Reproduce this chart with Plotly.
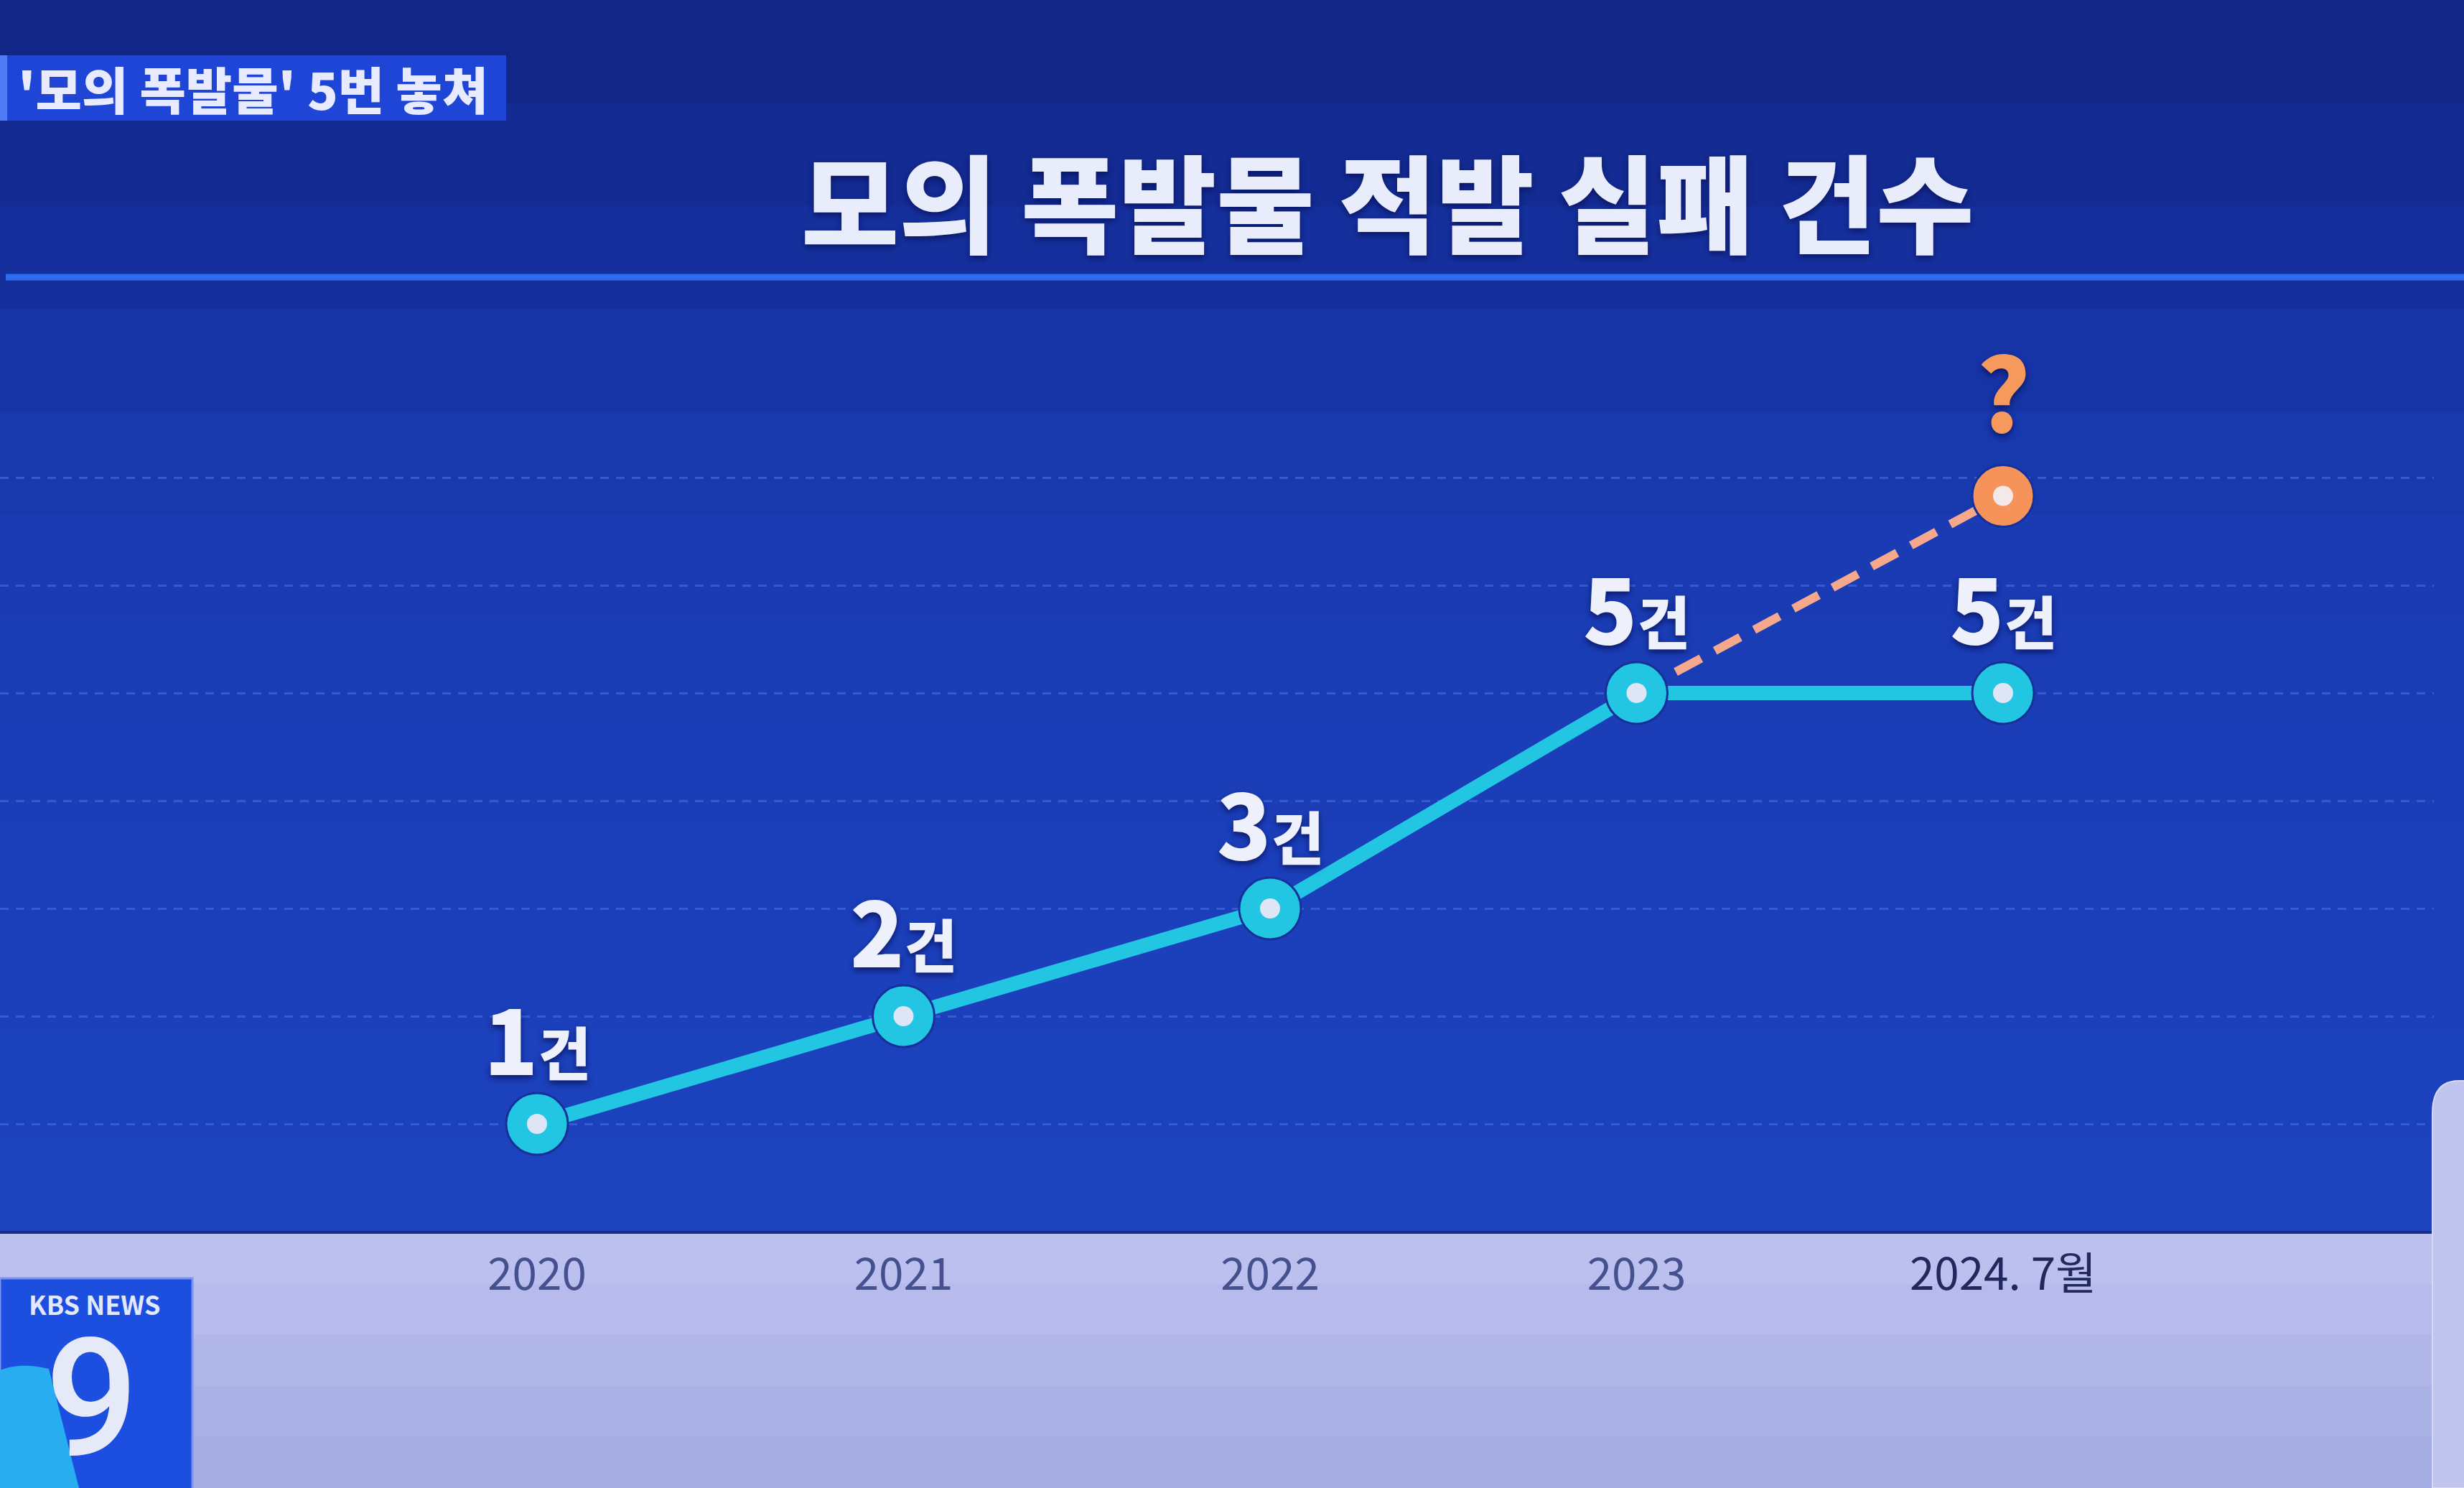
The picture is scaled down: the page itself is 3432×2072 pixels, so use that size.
import plotly.graph_objects as go

# ---------------- data ----------------
years = ["2020", "2021", "2022", "2023", "2024. 7월"]
counts = [1, 2, 3, 5, 5]
projected_value = 6.83          # height of the '?' point (estimated)
unit = "건"
title = "모의 폭발물 적발 실패 건수"
tag = "'모의 폭발물' 5번 놓쳐"
grid_values = [1, 2, 3, 4, 5, 6, 7]

# ---------------- layout helpers ----------------
W, H = 3432, 2072
def fx(p):
    return p / W
def fy(p):
    return 1 - p / H

KR = "Noto Sans CJK KR"
x_idx = list(range(len(years)))

fig = go.Figure()

# projection dashed line (2023 -> ?)
fig.add_trace(go.Scatter(
    x=[x_idx[3], x_idx[4]], y=[counts[3], projected_value], mode="lines",
    line=dict(color="#f6a88c", width=12, dash="40px,22px"),
    hoverinfo="skip", showlegend=False))
# main line
fig.add_trace(go.Scatter(
    x=x_idx, y=counts, mode="lines+markers",
    line=dict(color="#22c6e2", width=20),
    marker=dict(size=86, color="#22c6e2", line=dict(color="#16309a", width=3)),
    hoverinfo="skip", showlegend=False))
fig.add_trace(go.Scatter(
    x=x_idx, y=counts, mode="markers",
    marker=dict(size=28, color="#dde5f6"),
    hoverinfo="skip", showlegend=False))
# projected point
fig.add_trace(go.Scatter(
    x=[x_idx[4]], y=[projected_value], mode="markers",
    marker=dict(size=86, color="#f5935a", line=dict(color="#16309a", width=3)),
    hoverinfo="skip", showlegend=False))
fig.add_trace(go.Scatter(
    x=[x_idx[4]], y=[projected_value], mode="markers",
    marker=dict(size=28, color="#f3e8ea"),
    hoverinfo="skip", showlegend=False))

shapes = []
# background gradient bands
bg = ["#112686", "#132b92", "#15309d", "#1734a6", "#1838ae", "#1a3bb3",
      "#1a3db6", "#1b3eb8", "#1b3fba", "#1c40bb", "#1c41bc", "#1d42bd"]
step = 1720 / len(bg)
for i, c in enumerate(bg):
    shapes.append(dict(type="rect", xref="paper", yref="paper", layer="below",
                       x0=0, x1=1, y0=fy(i * step + step + 1), y1=fy(i * step),
                       fillcolor=c, line=dict(width=0)))
# bottom lavender band
band = ["#bcc0ee", "#b6bbeb", "#b0b6e8", "#aab1e5", "#a6ade3"]
bstep = (H - 1716) / len(band)
for i, c in enumerate(band):
    shapes.append(dict(type="rect", xref="paper", yref="paper", layer="below",
                       x0=0, x1=fx(3390), y0=fy(1716 + (i + 1) * bstep + 1), y1=fy(1716 + i * bstep),
                       fillcolor=c, line=dict(width=0)))
shapes.append(dict(type="line", xref="paper", yref="paper", layer="below",
                   x0=0, x1=fx(3390), y0=fy(1716), y1=fy(1716),
                   line=dict(color="#142c8c", width=4)))
# right side panel
shapes.append(dict(type="path", xref="paper", yref="paper", layer="above",
                   path=(f"M {fx(3388)},{fy(H)} L {fx(3388)},{fy(1550)} "
                         f"Q {fx(3388)},{fy(1505)} {fx(3425)},{fy(1505)} "
                         f"L {fx(3440)},{fy(1505)} L {fx(3440)},{fy(H)} Z"),
                   fillcolor="#c0c4ef", line=dict(color="#d6d9f6", width=2)))
# header line
shapes.append(dict(type="line", xref="paper", yref="paper", layer="below",
                   x0=fx(8), x1=1, y0=fy(386), y1=fy(386),
                   line=dict(color="#2f6cf2", width=9)))
# tag box
shapes.append(dict(type="rect", xref="paper", yref="paper", layer="below",
                   x0=0, x1=fx(705), y0=fy(168), y1=fy(77),
                   fillcolor="#1f45d6", line=dict(width=0)))
shapes.append(dict(type="rect", xref="paper", yref="paper", layer="below",
                   x0=0, x1=fx(10), y0=fy(168), y1=fy(77),
                   fillcolor="#4f7df8", line=dict(width=0)))
# KBS logo box
shapes.append(dict(type="rect", xref="paper", yref="paper", layer="above",
                   x0=0, x1=fx(268), y0=fy(H + 5), y1=fy(1780),
                   fillcolor="#1c4fdf", line=dict(color="#7d93f2", width=3)))
shapes.append(dict(type="path", xref="paper", yref="paper", layer="above",
                   path=(f"M {fx(0)},{fy(1908)} C {fx(25)},{fy(1898)} {fx(50)},{fy(1902)} {fx(68)},{fy(1906)} "
                         f"L {fx(110)},{fy(2072)} L {fx(0)},{fy(2072)} Z"),
                   fillcolor="#28aef0", line=dict(width=0)))

annotations = []
shadow = "0px 4px 8px rgba(8,18,90,0.85)"
for i, v in zip(x_idx, counts):
    annotations.append(dict(
        x=i, y=v, xref="x", yref="y", showarrow=False, yshift=122,
        xanchor="center", yanchor="middle",
        text=f"{v}<span style='font-size:80px'>{unit}</span>",
        font=dict(family=KR, size=124, color="#eef0fb", weight=900, shadow=shadow)))
annotations.append(dict(
    x=x_idx[4], y=projected_value, xref="x", yref="y", showarrow=False, yshift=150,
    xanchor="center", yanchor="middle",
    text="?", font=dict(family=KR, size=140, color="#f5995c", weight=900, shadow=shadow)))


def paper_text(x, y, text, font, **kw):
    annotations.append(dict(x=fx(x), y=fy(y), xref="paper", yref="paper", showarrow=False,
                            xanchor="center", yanchor="middle", text=text, font=font, **kw))


paper_text(1932, 276, title, dict(family=KR, size=148, color="#e9ecfb", weight=900, shadow=shadow))
paper_text(352, 122, tag, dict(family=KR, size=70, color="#e8eaff", weight=900))
paper_text(132, 1815, "KBS NEWS", dict(family=KR, size=36, color="#e2e8ff", weight=700), height=44)
paper_text(128, 1948, "9", dict(family="Roboto", size=228, color="#e6eaf8", weight=500), height=180)

ticktext = years[:-1] + [f"<span style='color:#20285c'>{years[-1]}</span>"]

fig.update_layout(
    width=W, height=H,
    margin=dict(l=0, r=0, t=0, b=0),
    paper_bgcolor="#1a3bb3", plot_bgcolor="rgba(0,0,0,0)",
    shapes=shapes, annotations=annotations, showlegend=False,
    xaxis=dict(domain=[0, fx(3390)], range=[-748 / 510.5, (3390 - 748) / 510.5],
               tickvals=x_idx, ticktext=ticktext, showgrid=False, zeroline=False,
               showline=False, ticks="", ticklabelstandoff=18,
               tickfont=dict(family=KR, size=62, color="#45508e")),
    yaxis=dict(domain=[fy(1715), fy(400)], range=[0, (1715 - 400) / 150],
               tickvals=grid_values, showticklabels=False, showgrid=True,
               gridcolor="rgba(80,120,235,0.5)", gridwidth=3, griddash="12px,10px",
               zeroline=False, showline=False, ticks=""),
)

fig.write_html("out.html")
